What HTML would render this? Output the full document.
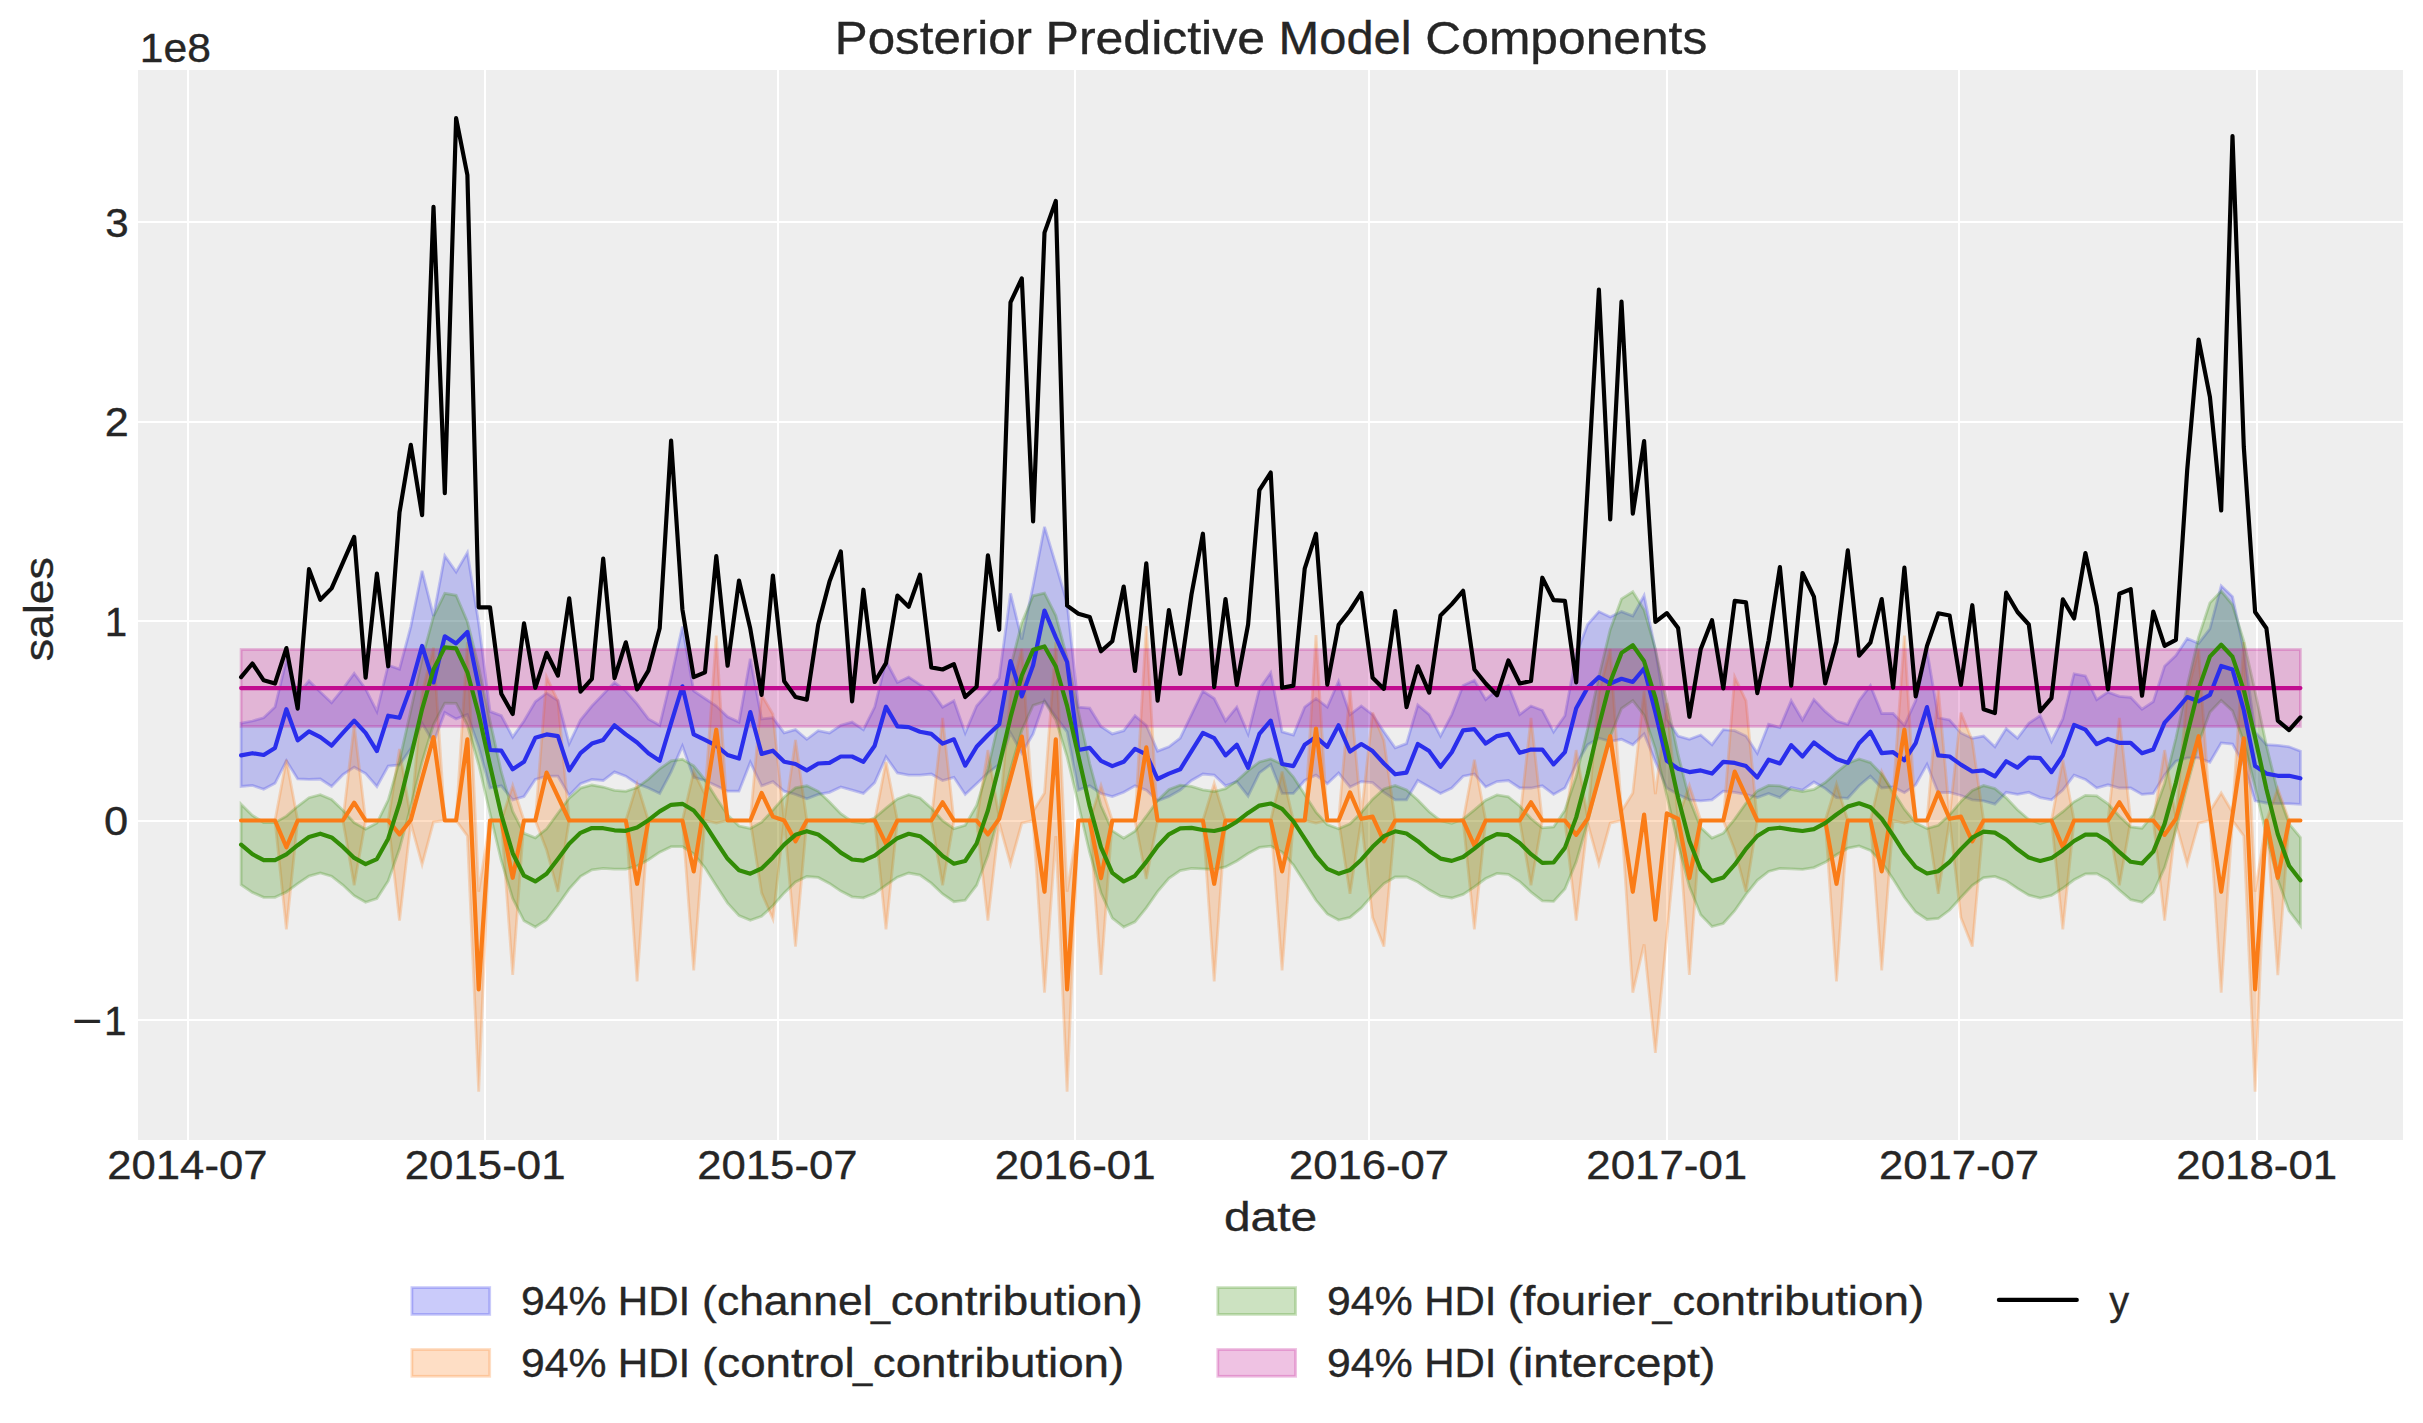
<!DOCTYPE html>
<html><head><meta charset="utf-8"><title>Posterior Predictive Model Components</title>
<style>
html,body{margin:0;padding:0;background:#ffffff;}
body{width:2423px;height:1423px;overflow:hidden;}
svg{display:block;}
text{font-family:"Liberation Sans",sans-serif;fill:#262626;stroke:#262626;stroke-width:0.35px;}
</style></head><body>
<svg width="2423" height="1423" viewBox="0 0 2423 1423">
<defs><clipPath id="pc"><rect x="138.0" y="70.0" width="2265.0" height="1070.0"/></clipPath></defs>
<rect width="2423" height="1423" fill="#ffffff"/>
<rect x="138.0" y="70.0" width="2265.0" height="1070.0" fill="#eeeeee"/>
<path d="M188 70.0V1140.0M485 70.0V1140.0M778 70.0V1140.0M1075 70.0V1140.0M1369 70.0V1140.0M1667 70.0V1140.0M1959 70.0V1140.0M2257 70.0V1140.0M138.0 222H2403.0M138.0 422H2403.0M138.0 621H2403.0M138.0 821H2403.0M138.0 1020H2403.0" stroke="#ffffff" stroke-width="2.1" fill="none"/>
<g clip-path="url(#pc)">
<polygon points="241.1,723.2 252.4,721 263.7,717.8 275,707.1 286.4,659.9 297.7,694.2 309,680.9 320.3,692.1 331.6,702.8 342.9,688.9 354.2,673.4 365.6,688.9 376.9,711.4 388.2,665.2 399.5,669.1 410.8,626.6 422.1,570.8 433.5,615.9 444.8,555.8 456.1,571.9 467.4,552.6 478.7,623.4 490,711.4 501.3,715.7 512.7,737.1 524,721 535.3,701.7 546.6,693.1 557.9,700.7 569.2,743.6 580.5,720 591.9,706 603.2,694.2 614.5,682.4 625.8,691 637.1,703.9 648.4,718.9 659.7,725.3 671.1,678.1 682.4,626.6 693.7,691 705,698.5 716.3,706 727.6,716.8 739,722.1 750.3,658.8 761.6,718.9 772.9,717.8 784.2,732.9 795.5,729.6 806.8,739.3 818.2,730.7 829.5,732.9 840.8,725.3 852.1,722.1 863.4,729.6 874.7,707.1 886,661 897.4,682.4 908.7,677.1 920,684.6 931.3,691 942.6,707.1 953.9,700.7 965.2,732.9 976.6,706 987.9,693.1 999.2,678.1 1010.5,593.4 1021.8,639.5 1033.1,585.8 1044.5,526.8 1055.8,564.4 1067.1,603 1078.4,707.1 1089.7,708.2 1101,726.4 1112.3,733.9 1123.7,730.7 1135,715.7 1146.3,725.3 1157.6,751.1 1168.9,746.8 1180.2,738.2 1191.5,714.6 1202.9,691 1214.2,698.5 1225.5,721 1236.8,707.1 1248.1,733.9 1259.4,688.9 1270.7,672.8 1282.1,731.8 1293.4,735 1304.7,707.1 1316,698.5 1327.3,707.1 1338.6,681.3 1350,714.6 1361.3,706 1372.6,714.6 1383.9,731.8 1395.2,747.9 1406.5,743.6 1417.8,705 1429.2,714.6 1440.5,736.1 1451.8,714.6 1463.1,685.6 1474.4,680.3 1485.7,699.6 1497,689.9 1508.4,685.6 1519.7,714.6 1531,706 1542.3,710.3 1553.6,731.8 1564.9,715.7 1576.2,654.5 1587.6,624.5 1598.9,611.6 1610.2,617 1621.5,611.6 1632.8,615.9 1644.1,595.5 1655.4,650.2 1666.8,718.9 1678.1,736.1 1689.4,739.3 1700.7,735 1712,744.7 1723.3,729.6 1734.7,730.7 1746,736.1 1757.3,753.2 1768.6,724.3 1779.9,727.5 1791.2,700.7 1802.5,720 1813.9,699.6 1825.2,711.4 1836.5,721 1847.8,724.3 1859.1,700.7 1870.4,685.6 1881.7,713.5 1893.1,713.5 1904.4,725.3 1915.7,700.7 1927,650.2 1938.3,717.8 1949.6,720 1960.9,732.9 1972.3,738.2 1983.6,736.1 1994.9,746.8 2006.2,728.6 2017.5,738.2 2028.8,723.2 2040.2,715.7 2051.5,741.4 2062.8,718.9 2074.1,673.8 2085.4,676 2096.7,699.6 2108,692.1 2119.4,696.4 2130.7,697.4 2142,709.2 2153.3,701.7 2164.6,666.3 2175.9,655.6 2187.2,638.4 2198.6,643.4 2209.9,628.8 2221.2,585.8 2232.5,596.6 2243.8,650.2 2255.1,731.8 2266.4,744.7 2277.8,745.3 2289.1,746.8 2300.4,751.1 2300.4,804.3 2289.1,803.7 2277.8,803.7 2266.4,803 2255.1,800.9 2243.8,764.4 2232.5,744 2221.2,742.9 2209.9,762.2 2198.6,757.9 2187.2,757.9 2175.9,761.2 2164.6,775.1 2153.3,793.4 2142,794.4 2130.7,788 2119.4,788 2108,784.8 2096.7,788 2085.4,779.4 2074.1,775.1 2062.8,790.1 2051.5,799.8 2040.2,797.6 2028.8,792.3 2017.5,794.4 2006.2,792.3 1994.9,804.1 1983.6,800.9 1972.3,799.8 1960.9,795.5 1949.6,792.3 1938.3,792.7 1927,764.4 1915.7,784.8 1904.4,792.7 1893.1,786.9 1881.7,788 1870.4,776.2 1859.1,785.8 1847.8,798.3 1836.5,797.6 1825.2,788.4 1813.9,782 1802.5,790.1 1791.2,787.6 1779.9,797.6 1768.6,793.4 1757.3,797.6 1746,794.4 1734.7,792.3 1723.3,791.2 1712,799.8 1700.7,800.9 1689.4,799.8 1678.1,794.4 1666.8,788 1655.4,761.8 1644.1,733.9 1632.8,744.7 1621.5,739.3 1610.2,741.4 1598.9,738.2 1587.6,744.7 1576.2,764.4 1564.9,788 1553.6,794.4 1542.3,785.8 1531,788 1519.7,788 1508.4,780.5 1497,781.6 1485.7,786.9 1474.4,774 1463.1,776.2 1451.8,788 1440.5,793.4 1429.2,786.9 1417.8,780.5 1406.5,799.8 1395.2,799.8 1383.9,792.3 1372.6,782.6 1361.3,781.6 1350,786.9 1338.6,773 1327.3,783.7 1316,775.1 1304.7,780.5 1293.4,793.4 1282.1,793.4 1270.7,764.4 1259.4,773 1248.1,796.1 1236.8,781.6 1225.5,785.8 1214.2,775.1 1202.9,774 1191.5,780.5 1180.2,790.1 1168.9,796.6 1157.6,800.9 1146.3,790.1 1135,785.8 1123.7,792.3 1112.3,796.6 1101,793.4 1089.7,785.8 1078.4,790.1 1067.1,731.8 1055.8,716.8 1044.5,700.7 1033.1,733.9 1021.8,753.2 1010.5,732.9 999.2,764.4 987.9,773 976.6,783.7 965.2,794.4 953.9,777.3 942.6,780.5 931.3,774 920,775.1 908.7,775.1 897.4,773 886,756.9 874.7,782.6 863.4,793.4 852.1,790.1 840.8,786.9 829.5,792.3 818.2,794.4 806.8,798.7 795.5,794.4 784.2,791.2 772.9,781.6 761.6,785.8 750.3,762.2 739,791.2 727.6,791.2 716.3,785.8 705,780.5 693.7,777.3 682.4,746.1 671.1,771.9 659.7,793.4 648.4,788 637.1,783.7 625.8,776.2 614.5,771.9 603.2,780.5 591.9,779.4 580.5,783.7 569.2,795.5 557.9,776.2 546.6,776.2 535.3,779.4 524,796.6 512.7,799.8 501.3,785.8 490,788 478.7,746.8 467.4,714.6 456.1,718.9 444.8,712.5 433.5,742.5 422.1,723.2 410.8,748.9 399.5,765 388.2,766.1 376.9,786.5 365.6,773.6 354.2,767.2 342.9,774.7 331.6,786.5 320.3,779 309,779.4 297.7,779 286.4,760.8 275,783.3 263.7,789.3 252.4,785.4 241.1,786.5" fill="#2a2eec" fill-opacity="0.25" stroke="#2a2eec" stroke-opacity="0.25" stroke-width="2.8" stroke-linejoin="miter"/>
<polygon points="241.1,820.5 252.4,820.5 263.7,820.5 275,820.5 286.4,759.8 297.7,820.5 309,820.5 320.3,820.5 331.6,820.5 342.9,820.5 354.2,725 365.6,820.5 376.9,820.5 388.2,820.5 399.5,749 410.8,818.8 422.1,692.8 433.5,647.7 444.8,820.5 456.1,820.5 467.4,642.1 478.7,891.8 490,820.5 501.3,820.5 512.7,785.5 524,820.5 535.3,820.5 546.6,676.9 557.9,700.8 569.2,820.5 580.5,820.5 591.9,820.5 603.2,820.5 614.5,820.5 625.8,820.5 637.1,784 648.4,820.5 659.7,820.5 671.1,820.5 682.4,820.5 693.7,771.6 705,794.6 716.3,635.6 727.6,820.5 739,820.5 750.3,820.5 761.6,694.8 772.9,714.3 784.2,820.5 795.5,740 806.8,820.5 818.2,820.5 829.5,820.5 840.8,820.5 852.1,820.5 863.4,820.5 874.7,820.5 886,761.9 897.4,820.5 908.7,820.5 920,820.5 931.3,820.5 942.6,717.9 953.9,820.5 965.2,820.5 976.6,820.5 987.9,750.1 999.2,817.7 1010.5,692.8 1021.8,648.9 1033.1,811.3 1044.5,793 1055.8,642.1 1067.1,891.8 1078.4,820.5 1089.7,820.5 1101,785.5 1112.3,820.5 1123.7,820.5 1135,820.5 1146.3,626 1157.6,820.5 1168.9,820.5 1180.2,820.5 1191.5,820.5 1202.9,820.5 1214.2,783.4 1225.5,820.5 1236.8,820.5 1248.1,820.5 1259.4,820.5 1270.7,820.5 1282.1,771.6 1293.4,820.5 1304.7,820.5 1316,635.2 1327.3,820.5 1338.6,820.5 1350,688.8 1361.3,815.6 1372.6,712.6 1383.9,740.5 1395.2,820.5 1406.5,820.5 1417.8,820.5 1429.2,820.5 1440.5,820.5 1451.8,820.5 1463.1,820.5 1474.4,759.8 1485.7,820.5 1497,820.5 1508.4,820.5 1519.7,820.5 1531,717.9 1542.3,820.5 1553.6,820.5 1564.9,820.5 1576.2,750.1 1587.6,817.7 1598.9,692.8 1610.2,648.9 1621.5,811.3 1632.8,793 1644.1,690.8 1655.4,794.1 1666.8,702.8 1678.1,817.7 1689.4,785.5 1700.7,820.5 1712,820.5 1723.3,820.5 1734.7,676.9 1746,700.8 1757.3,820.5 1768.6,820.5 1779.9,820.5 1791.2,820.5 1802.5,820.5 1813.9,820.5 1825.2,820.5 1836.5,784 1847.8,820.5 1859.1,820.5 1870.4,820.5 1881.7,771.6 1893.1,794.6 1904.4,635.6 1915.7,820.5 1927,820.5 1938.3,688.8 1949.6,815.6 1960.9,712.6 1972.3,740.5 1983.6,820.5 1994.9,820.5 2006.2,820.5 2017.5,820.5 2028.8,820.5 2040.2,820.5 2051.5,820.5 2062.8,759.8 2074.1,820.5 2085.4,820.5 2096.7,820.5 2108,820.5 2119.4,717.9 2130.7,820.5 2142,820.5 2153.3,820.5 2164.6,750.1 2175.9,817.7 2187.2,692.8 2198.6,648.9 2209.9,811.3 2221.2,793 2232.5,812.3 2243.8,642.1 2255.1,891.8 2266.4,820.5 2277.8,788.6 2289.1,820.5 2300.4,820.5 2300.4,820.5 2289.1,820.5 2277.8,975.1 2266.4,820.5 2255.1,1091.8 2243.8,836 2232.5,820.5 2221.2,992.6 2209.9,820.5 2198.6,823.1 2187.2,863.9 2175.9,823.1 2164.6,920.7 2153.3,820.5 2142,820.5 2130.7,820.5 2119.4,885.3 2108,820.5 2096.7,820.5 2085.4,820.5 2074.1,820.5 2062.8,929.3 2051.5,820.5 2040.2,820.5 2028.8,820.5 2017.5,820.5 2006.2,820.5 1994.9,820.5 1983.6,820.5 1972.3,946.5 1960.9,917.5 1949.6,820.5 1938.3,893.9 1927,820.5 1915.7,820.5 1904.4,823.1 1893.1,820.5 1881.7,970.5 1870.4,820.5 1859.1,820.5 1847.8,820.5 1836.5,981.5 1825.2,820.5 1813.9,820.5 1802.5,820.5 1791.2,820.5 1779.9,820.5 1768.6,820.5 1757.3,820.5 1746,891.8 1734.7,849.9 1723.3,820.5 1712,820.5 1700.7,820.5 1689.4,974.8 1678.1,820.5 1666.8,935.7 1655.4,1052.9 1644.1,944.3 1632.8,992.6 1621.5,820.5 1610.2,823.1 1598.9,863.9 1587.6,823.1 1576.2,920.7 1564.9,820.5 1553.6,820.5 1542.3,820.5 1531,885.3 1519.7,820.5 1508.4,820.5 1497,820.5 1485.7,820.5 1474.4,929.3 1463.1,820.5 1451.8,820.5 1440.5,820.5 1429.2,820.5 1417.8,820.5 1406.5,820.5 1395.2,820.5 1383.9,946.5 1372.6,917.5 1361.3,820.5 1350,893.9 1338.6,820.5 1327.3,820.5 1316,823.1 1304.7,820.5 1293.4,820.5 1282.1,970.5 1270.7,820.5 1259.4,820.5 1248.1,820.5 1236.8,820.5 1225.5,820.5 1214.2,981.5 1202.9,820.5 1191.5,820.5 1180.2,820.5 1168.9,820.5 1157.6,820.5 1146.3,878.9 1135,820.5 1123.7,820.5 1112.3,820.5 1101,974.8 1089.7,820.5 1078.4,820.5 1067.1,1091.8 1055.8,836 1044.5,992.6 1033.1,820.5 1021.8,823.1 1010.5,863.9 999.2,823.1 987.9,920.7 976.6,820.5 965.2,820.5 953.9,820.5 942.6,885.3 931.3,820.5 920,820.5 908.7,820.5 897.4,820.5 886,929.3 874.7,820.5 863.4,820.5 852.1,820.5 840.8,820.5 829.5,820.5 818.2,820.5 806.8,820.5 795.5,946.5 784.2,820.5 772.9,919 761.6,892.8 750.3,820.5 739,820.5 727.6,820.5 716.3,823.1 705,820.5 693.7,970.5 682.4,820.5 671.1,820.5 659.7,820.5 648.4,820.5 637.1,981.5 625.8,820.5 614.5,820.5 603.2,820.5 591.9,820.5 580.5,820.5 569.2,820.5 557.9,891.8 546.6,849.9 535.3,820.5 524,820.5 512.7,974.8 501.3,820.5 490,820.5 478.7,1091.8 467.4,836 456.1,820.5 444.8,820.5 433.5,822 422.1,864.5 410.8,823.1 399.5,920.7 388.2,820.5 376.9,820.5 365.6,820.5 354.2,885.3 342.9,820.5 331.6,820.5 320.3,820.5 309,820.5 297.7,820.5 286.4,929.3 275,820.5 263.7,820.5 252.4,820.5 241.1,820.5" fill="#fa7c17" fill-opacity="0.25" stroke="#fa7c17" stroke-opacity="0.25" stroke-width="2.8" stroke-linejoin="miter"/>
<polygon points="241.1,804.2 252.4,815.5 263.7,822.5 275,822.6 286.4,816.1 297.7,806.3 309,797.7 320.3,794.7 331.6,799.4 342.9,810.3 354.2,822.6 365.6,829.1 376.9,823 388.2,800.1 399.5,760.8 410.8,710.4 422.1,658.6 433.5,616.4 444.8,593.4 456.1,595.3 467.4,621.8 478.7,666.9 490,720.7 501.3,772 512.7,811.4 524,833.4 535.3,837.8 546.6,828.8 557.9,813.3 569.2,798.1 580.5,788.1 591.9,785 603.2,787 614.5,790.4 625.8,791.3 637.1,787.5 648.4,779.1 659.7,768.8 671.1,760.9 682.4,759.3 693.7,765.9 705,779.9 716.3,797.9 727.6,814.9 739,826 750.3,828.4 761.6,822.2 772.9,810.1 784.2,797 795.5,787.8 806.8,785.8 818.2,791.3 829.5,802.1 840.8,813.7 852.1,821.7 863.4,823.1 874.7,817.7 886,808.1 897.4,798.9 908.7,794.7 920,798 931.3,808.1 942.6,820.6 953.9,828.7 965.2,825.3 976.6,805.5 987.9,768.8 999.2,719.8 1010.5,667.5 1021.8,622.7 1033.1,595.8 1044.5,593.1 1055.8,615.5 1067.1,657.9 1078.4,711 1089.7,763.5 1101,805.5 1112.3,830.8 1123.7,838.2 1135,831.1 1146.3,816.2 1157.6,800.5 1168.9,789.4 1180.2,785.1 1191.5,786.4 1202.9,789.9 1214.2,791.5 1225.5,788.6 1236.8,780.8 1248.1,770.6 1259.4,762 1270.7,759 1282.1,764.1 1293.4,777 1304.7,794.6 1316,812.1 1327.3,824.6 1338.6,828.7 1350,823.8 1361.3,812.5 1372.6,799.2 1383.9,789 1395.2,785.6 1406.5,789.9 1417.8,800 1429.2,811.8 1440.5,820.7 1451.8,823.4 1463.1,819 1474.4,809.9 1485.7,800.3 1497,794.9 1508.4,796.8 1519.7,806 1531,818.5 1542.3,827.9 1553.6,827 1564.9,810.3 1576.2,776.5 1587.6,729.1 1598.9,676.6 1610.2,629.7 1621.5,598.9 1632.8,591.7 1644.1,609.8 1655.4,649.2 1666.8,701.2 1678.1,754.7 1689.4,799.1 1700.7,827.6 1712,838 1723.3,833.2 1734.7,819.1 1746,803.1 1757.3,790.9 1768.6,785.4 1779.9,785.9 1791.2,789.3 1802.5,791.5 1813.9,789.5 1825.2,782.5 1836.5,772.4 1847.8,763.2 1859.1,759 1870.4,762.6 1881.7,774.2 1893.1,791.3 1904.4,809.2 1915.7,822.9 1927,828.6 1938.3,825.3 1949.6,814.8 1960.9,801.5 1972.3,790.4 1983.6,785.6 1994.9,788.6 2006.2,797.9 2017.5,809.8 2028.8,819.5 2040.2,823.5 2051.5,820.3 2062.8,811.7 2074.1,801.8 2085.4,795.4 2096.7,795.9 2108,803.9 2119.4,816.3 2130.7,826.8 2142,828.2 2153.3,814.6 2164.6,783.7 2175.9,738.3 2187.2,685.9 2198.6,637.1 2209.9,602.9 2221.2,591.1 2232.5,604.8 2243.8,641 2255.1,691.5 2266.4,745.5 2277.8,792.2 2289.1,823.9 2300.4,837.4 2300.4,925.6 2289.1,910.9 2277.8,879.8 2266.4,835.9 2255.1,786.7 2243.8,741.9 2232.5,710.9 2221.2,700.4 2209.9,712.2 2198.6,743.1 2187.2,785.5 2175.9,830.1 2164.6,867.6 2153.3,892.3 2142,902.2 2130.7,899.7 2119.4,890.1 2108,879.8 2096.7,873.6 2085.4,873.9 2074.1,879.8 2062.8,888.3 2051.5,895.4 2040.2,898.1 2028.8,895.2 2017.5,888.4 2006.2,880.8 1994.9,876.4 1983.6,877.7 1972.3,885.4 1960.9,897.5 1949.6,910 1938.3,918.5 1927,919.5 1915.7,912 1904.4,897.3 1893.1,879.1 1881.7,862.2 1870.4,850.4 1859.1,845.9 1847.8,848.2 1836.5,854.8 1825.2,862.3 1813.9,867.6 1802.5,869.4 1791.2,868.8 1779.9,868.4 1768.6,871.5 1757.3,880.3 1746,894.4 1734.7,910.7 1723.3,923.5 1712,926.5 1700.7,914.7 1689.4,886.5 1678.1,844.4 1666.8,795.5 1655.4,749.1 1644.1,715.1 1632.8,700.6 1621.5,708.5 1610.2,736.5 1598.9,777.5 1587.6,822.4 1576.2,861.8 1564.9,889 1553.6,901.4 1542.3,900.8 1531,892.1 1519.7,881.5 1508.4,874.3 1497,873.4 1485.7,878.5 1474.4,886.8 1463.1,894.4 1451.8,898 1440.5,896.1 1429.2,889.8 1417.8,882.1 1406.5,876.8 1395.2,877 1383.9,883.6 1372.6,895.1 1361.3,907.9 1350,917.4 1338.6,920 1327.3,913.9 1316,900.3 1304.7,882.4 1293.4,864.9 1282.1,852 1270.7,846.1 1259.4,847.4 1248.1,853.5 1236.8,861 1225.5,866.9 1214.2,869.3 1202.9,868.9 1191.5,868.3 1180.2,870.6 1168.9,878.3 1157.6,891.6 1146.3,907.9 1135,921.8 1123.7,927 1112.3,918.1 1101,892.7 1089.7,852.7 1078.4,804.3 1067.1,756.8 1055.8,719.9 1044.5,701.6 1033.1,705.5 1021.8,730.3 1010.5,769.6 999.2,814.5 987.9,855.5 976.6,885.2 965.2,900.3 953.9,901.7 942.6,894 931.3,883.2 920,875.1 908.7,873 897.4,877.2 886,885.2 874.7,893.3 863.4,897.8 852.1,896.8 840.8,891.1 829.5,883.4 818.2,877.4 806.8,876.5 795.5,882 784.2,892.9 772.9,905.7 761.6,916.2 750.3,920.2 739,915.6 727.6,903.1 716.3,885.7 705,867.8 693.7,853.8 682.4,846.6 671.1,846.7 659.7,852.2 648.4,859.7 637.1,866 625.8,869.1 614.5,869.1 603.2,868.3 591.9,869.8 580.5,876.4 569.2,888.9 557.9,905 546.6,919.7 535.3,927 524,920.8 512.7,898.4 501.3,860.7 490,813.2 478.7,764.8 467.4,725.3 456.1,703.3 444.8,703.2 433.5,724.6 422.1,761.9 410.8,806.5 399.5,848.8 388.2,880.9 376.9,898.6 365.6,902.3 354.2,895.7 342.9,885.1 331.6,876.2 320.3,872.9 309,876.1 297.7,883.7 286.4,892 275,897.3 263.7,897.4 252.4,892.4 241.1,884.7" fill="#328c06" fill-opacity="0.25" stroke="#328c06" stroke-opacity="0.25" stroke-width="2.8" stroke-linejoin="miter"/>
<rect x="241.1" y="649.5" width="2059.3" height="76.9" fill="#c10c90" fill-opacity="0.25" stroke="#c10c90" stroke-opacity="0.25" stroke-width="2.8"/>
<polyline points="241.1,755.4 252.4,753.2 263.7,755 275,747.9 286.4,709.2 297.7,740.4 309,731.3 320.3,737.1 331.6,745.7 342.9,732.9 354.2,720.6 365.6,732.9 376.9,751.1 388.2,715.7 399.5,717.8 410.8,686.7 422.1,645.9 433.5,682.4 444.8,636.3 456.1,643.4 467.4,632 478.7,686.7 490,750 501.3,750.7 512.7,769.3 524,761.8 535.3,737.8 546.6,734.4 557.9,736.1 569.2,770.4 580.5,753.2 591.9,743.6 603.2,739.9 614.5,725.3 625.8,734.4 637.1,742.5 648.4,753.2 659.7,760.8 671.1,723.2 682.4,686.3 693.7,734.4 705,739.9 716.3,745.7 727.6,755 739,758.6 750.3,712 761.6,753.9 772.9,750.7 784.2,761.8 795.5,764 806.8,770.4 818.2,763.5 829.5,762.9 840.8,756.5 852.1,756.5 863.4,761.8 874.7,745.7 886,706.7 897.4,726.4 908.7,727.1 920,731.8 931.3,733.9 942.6,743.6 953.9,739.3 965.2,765.7 976.6,746.8 987.9,735 999.2,724.3 1010.5,661 1021.8,696.4 1033.1,665.2 1044.5,610.5 1055.8,637.4 1067.1,662 1078.4,750 1089.7,747.9 1101,760.8 1112.3,766.1 1123.7,761.8 1135,748.9 1146.3,754.3 1157.6,779 1168.9,773.6 1180.2,769.3 1191.5,751.1 1202.9,732.9 1214.2,738.2 1225.5,755.4 1236.8,744.7 1248.1,767.8 1259.4,733.9 1270.7,720.6 1282.1,764 1293.4,766.1 1304.7,744.7 1316,737.1 1327.3,746.8 1338.6,725.3 1350,751.5 1361.3,744 1372.6,751.1 1383.9,763.5 1395.2,774.3 1406.5,772.6 1417.8,744 1429.2,751.1 1440.5,766.8 1451.8,752.2 1463.1,730.3 1474.4,729.2 1485.7,743.6 1497,736.1 1508.4,733.9 1519.7,752.8 1531,749.6 1542.3,749.6 1553.6,764.4 1564.9,752.2 1576.2,708.2 1587.6,687.8 1598.9,677.1 1610.2,683.5 1621.5,678.8 1632.8,682 1644.1,668.5 1655.4,712.5 1666.8,760.8 1678.1,768.7 1689.4,772.1 1700.7,770.4 1712,773.6 1723.3,761.8 1734.7,762.9 1746,766.1 1757.3,777.5 1768.6,759.7 1779.9,763.5 1791.2,745.1 1802.5,756.5 1813.9,742.5 1825.2,751.1 1836.5,759 1847.8,762.9 1859.1,743.2 1870.4,731.8 1881.7,753.2 1893.1,752.2 1904.4,760.3 1915.7,743.2 1927,707.1 1938.3,755.4 1949.6,756.5 1960.9,764.6 1972.3,771.5 1983.6,770.4 1994.9,776.4 2006.2,761.2 2017.5,767.6 2028.8,757.5 2040.2,758.2 2051.5,772.1 2062.8,755.4 2074.1,724.9 2085.4,729.6 2096.7,744.2 2108,738.9 2119.4,742.9 2130.7,742.9 2142,753.2 2153.3,749.4 2164.6,722.6 2175.9,710.3 2187.2,697 2198.6,701.3 2209.9,694.9 2221.2,665.9 2232.5,669.5 2243.8,710.3 2255.1,766.1 2266.4,773.6 2277.8,775.8 2289.1,775.8 2300.4,778.3" fill="none" stroke="#2a2eec" stroke-width="4.17" stroke-linejoin="round" stroke-linecap="round"/>
<polyline points="241.1,820.5 252.4,820.5 263.7,820.5 275,820.5 286.4,847.3 297.7,820.5 309,820.5 320.3,820.5 331.6,820.5 342.9,820.5 354.2,802.7 365.6,820.5 376.9,820.5 388.2,820.5 399.5,834.4 410.8,819.9 422.1,778.4 433.5,737.2 444.8,820.5 456.1,820.5 467.4,739.4 478.7,989.4 490,820.5 501.3,820.5 512.7,877.8 524,820.5 535.3,820.5 546.6,772.6 557.9,796.5 569.2,820.5 580.5,820.5 591.9,820.5 603.2,820.5 614.5,820.5 625.8,820.5 637.1,883.8 648.4,820.5 659.7,820.5 671.1,820.5 682.4,820.5 693.7,871.4 705,800.5 716.3,729.7 727.6,820.5 739,820.5 750.3,820.5 761.6,793 772.9,816.6 784.2,820.5 795.5,841.3 806.8,820.5 818.2,820.5 829.5,820.5 840.8,820.5 852.1,820.5 863.4,820.5 874.7,820.5 886,843.9 897.4,820.5 908.7,820.5 920,820.5 931.3,820.5 942.6,802.3 953.9,820.5 965.2,820.5 976.6,820.5 987.9,834.4 999.2,818.8 1010.5,778 1021.8,736.6 1033.1,814.1 1044.5,891.8 1055.8,739.4 1067.1,989.4 1078.4,820.5 1089.7,820.5 1101,878.2 1112.3,820.5 1123.7,820.5 1135,820.5 1146.3,747.3 1157.6,820.5 1168.9,820.5 1180.2,820.5 1191.5,820.5 1202.9,820.5 1214.2,883.8 1225.5,820.5 1236.8,820.5 1248.1,820.5 1259.4,820.5 1270.7,820.5 1282.1,871.4 1293.4,820.5 1304.7,820.5 1316,728.6 1327.3,820.5 1338.6,820.5 1350,792.4 1361.3,818.8 1372.6,816.6 1383.9,841.3 1395.2,820.5 1406.5,820.5 1417.8,820.5 1429.2,820.5 1440.5,820.5 1451.8,820.5 1463.1,820.5 1474.4,845.6 1485.7,820.5 1497,820.5 1508.4,820.5 1519.7,820.5 1531,802.3 1542.3,820.5 1553.6,820.5 1564.9,820.5 1576.2,834.9 1587.6,818.8 1598.9,778 1610.2,736.2 1621.5,814.5 1632.8,891.8 1644.1,814.5 1655.4,919.6 1666.8,813.4 1678.1,818.8 1689.4,878.2 1700.7,820.5 1712,820.5 1723.3,820.5 1734.7,771.6 1746,796.2 1757.3,820.5 1768.6,820.5 1779.9,820.5 1791.2,820.5 1802.5,820.5 1813.9,820.5 1825.2,820.5 1836.5,883.8 1847.8,820.5 1859.1,820.5 1870.4,820.5 1881.7,871.4 1893.1,800.5 1904.4,729.7 1915.7,820.5 1927,820.5 1938.3,792.4 1949.6,818.8 1960.9,816.6 1972.3,841.3 1983.6,820.5 1994.9,820.5 2006.2,820.5 2017.5,820.5 2028.8,820.5 2040.2,820.5 2051.5,820.5 2062.8,847.3 2074.1,820.5 2085.4,820.5 2096.7,820.5 2108,820.5 2119.4,802.3 2130.7,820.5 2142,820.5 2153.3,820.5 2164.6,834.9 2175.9,818.8 2187.2,778 2198.6,736.2 2209.9,814.5 2221.2,891.8 2232.5,814.9 2243.8,738.3 2255.1,989.4 2266.4,820.5 2277.8,877.8 2289.1,820.5 2300.4,820.5" fill="none" stroke="#fa7c17" stroke-width="4.17" stroke-linejoin="round" stroke-linecap="round"/>
<polyline points="241.1,844.7 252.4,854.2 263.7,860.2 275,860.2 286.4,854.3 297.7,845.2 309,837 320.3,833.7 331.6,837.4 342.9,846.9 354.2,857.9 365.6,864.1 376.9,859.1 388.2,838.7 399.5,803.2 410.8,757.1 422.1,709.1 433.5,669.5 444.8,647.4 456.1,648.3 467.4,672.3 478.7,714.4 490,765.3 501.3,814.6 512.7,853.2 524,875.7 535.3,881.4 546.6,873.8 557.9,859 569.2,843.8 580.5,832.8 591.9,828 603.2,828.2 614.5,830.3 625.8,830.8 637.1,827.4 648.4,820.2 659.7,811.4 671.1,804.8 682.4,803.8 693.7,810.5 705,824.3 716.3,841.9 727.6,858.8 739,870.3 750.3,873.7 761.6,868.5 772.9,857.4 784.2,844.6 795.5,834.8 806.8,831.2 818.2,834.5 829.5,842.9 840.8,852.6 852.1,859.5 863.4,860.6 874.7,855.7 886,846.9 897.4,838.2 908.7,833.8 920,836.2 931.3,844.9 942.6,856.1 953.9,863.7 965.2,861 976.6,843.6 987.9,810.5 999.2,765.7 1010.5,717.4 1021.8,675.5 1033.1,649.8 1044.5,646.4 1055.8,666.5 1067.1,705.9 1078.4,756 1089.7,806.3 1101,847.4 1112.3,872.9 1123.7,881.5 1135,875.8 1146.3,861.9 1157.6,846.3 1168.9,834.3 1180.2,828.4 1191.5,827.9 1202.9,830 1214.2,831 1225.5,828.4 1236.8,821.7 1248.1,812.9 1259.4,805.6 1270.7,803.5 1282.1,808.8 1293.4,821.4 1304.7,838.6 1316,856 1327.3,868.8 1338.6,873.7 1350,870 1361.3,859.7 1372.6,846.8 1383.9,836.2 1395.2,831.3 1406.5,833.5 1417.8,841.2 1429.2,851 1440.5,858.6 1451.8,860.9 1463.1,857 1474.4,848.6 1485.7,839.5 1497,834.1 1508.4,835.2 1519.7,843 1531,854.2 1542.3,862.9 1553.6,862.5 1564.9,847.9 1576.2,817.4 1587.6,774.3 1598.9,725.8 1610.2,682.1 1621.5,652.9 1632.8,645.2 1644.1,661.3 1655.4,697.8 1666.8,746.7 1678.1,797.8 1689.4,841 1700.7,869.6 1712,881.1 1723.3,877.6 1734.7,864.7 1746,848.9 1757.3,836 1768.6,829 1779.9,827.7 1791.2,829.6 1802.5,831 1813.9,829.1 1825.2,823.1 1836.5,814.5 1847.8,806.6 1859.1,803.3 1870.4,807.3 1881.7,818.7 1893.1,835.4 1904.4,853.1 1915.7,867 1927,873.5 1938.3,871.2 1949.6,861.8 1960.9,849.1 1972.3,837.7 1983.6,831.7 1994.9,832.6 2006.2,839.5 2017.5,849.3 2028.8,857.6 2040.2,861 2051.5,858.1 2062.8,850.2 2074.1,841 2085.4,834.6 2096.7,834.5 2108,841.3 2119.4,852.2 2130.7,861.8 2142,863.5 2153.3,851.6 2164.6,823.9 2175.9,782.6 2187.2,734.4 2198.6,689.1 2209.9,656.6 2221.2,644.8 2232.5,656.8 2243.8,690.1 2255.1,737.5 2266.4,789 2277.8,834.2 2289.1,865.8 2300.4,880.3" fill="none" stroke="#328c06" stroke-width="4.17" stroke-linejoin="round" stroke-linecap="round"/>
<path d="M241.1 688.1H2300.4" stroke="#c10c90" stroke-width="4.17" fill="none" stroke-linecap="round"/>
<polyline points="241.1,677.1 252.4,663.5 263.7,680.3 275,683.5 286.4,648.1 297.7,708.6 309,569.1 320.3,599.8 331.6,588.4 342.9,562.7 354.2,536.9 365.6,677.7 376.9,573.6 388.2,666.3 399.5,512.4 410.8,444.8 422.1,515.2 433.5,206.9 444.8,493.1 456.1,118.2 467.4,175.1 478.7,607.3 490,607.3 501.3,693.8 512.7,714 524,623.4 535.3,687.8 546.6,652.8 557.9,675.6 569.2,598.3 580.5,691.6 591.9,678.8 603.2,558.6 614.5,678.1 625.8,642.3 637.1,689.5 648.4,670.6 659.7,628.3 671.1,440.6 682.4,609.5 693.7,677.1 705,672.3 716.3,556.2 727.6,665.7 739,580.5 750.3,628.8 761.6,694.9 772.9,575.5 784.2,681.3 795.5,697 806.8,699.6 818.2,624.5 829.5,581.6 840.8,551.5 852.1,701.3 863.4,589.7 874.7,682 886,663.1 897.4,595.5 908.7,606.7 920,574.7 931.3,667.4 942.6,669.5 953.9,664.2 965.2,697 976.6,686.7 987.9,555.4 999.2,629.8 1010.5,302.4 1021.8,278.3 1033.1,521.5 1044.5,232.6 1055.8,200.9 1067.1,605.6 1078.4,613.7 1089.7,617 1101,651.3 1112.3,641.2 1123.7,586.5 1135,671 1146.3,563.3 1157.6,700.7 1168.9,610.1 1180.2,673.8 1191.5,594.4 1202.9,533.7 1214.2,687.1 1225.5,599.1 1236.8,685 1248.1,624.5 1259.4,490.2 1270.7,472.5 1282.1,687.8 1293.4,685.6 1304.7,568.7 1316,533.7 1327.3,684.6 1338.6,624.9 1350,610.5 1361.3,592.9 1372.6,677.7 1383.9,688.9 1395.2,611 1406.5,707.1 1417.8,666.3 1429.2,692.7 1440.5,615.5 1451.8,604.1 1463.1,590.8 1474.4,669.5 1485.7,683.5 1497,695.3 1508.4,660.5 1519.7,683.5 1531,680.9 1542.3,577.7 1553.6,600.2 1564.9,600.9 1576.2,682.4 1587.6,488 1598.9,289.7 1610.2,519.4 1621.5,301.5 1632.8,513.6 1644.1,441 1655.4,621.9 1666.8,613.1 1678.1,628.1 1689.4,716.8 1700.7,649.2 1712,620.2 1723.3,688.4 1734.7,600.9 1746,602.4 1757.3,693.1 1768.6,640.6 1779.9,567 1791.2,685.6 1802.5,573 1813.9,596.6 1825.2,683.5 1836.5,641.6 1847.8,550.4 1859.1,655.6 1870.4,642.7 1881.7,599.1 1893.1,687.8 1904.4,567.6 1915.7,696.4 1927,645.9 1938.3,613.3 1949.6,615.5 1960.9,685 1972.3,605.2 1983.6,709.2 1994.9,713.1 2006.2,592.7 2017.5,612 2028.8,624.5 2040.2,711.4 2051.5,698.1 2062.8,599.4 2074.1,618.5 2085.4,553 2096.7,606.2 2108,689.3 2119.4,593.8 2130.7,589.1 2142,695.7 2153.3,611.6 2164.6,645.9 2175.9,639.9 2187.2,470 2198.6,339.5 2209.9,396.8 2221.2,510.5 2232.5,136.1 2243.8,447 2255.1,612 2266.4,628.3 2277.8,720.6 2289.1,730.1 2300.4,717.4" fill="none" stroke="#000000" stroke-width="4.17" stroke-linejoin="round" stroke-linecap="round"/>
</g>
<rect x="411.90" y="1287.60" width="77.8" height="26.8" fill="#2a2eec" fill-opacity="0.25" stroke="#2a2eec" stroke-opacity="0.25" stroke-width="2.8"/>
<rect x="411.90" y="1349.50" width="77.8" height="26.8" fill="#fa7c17" fill-opacity="0.25" stroke="#fa7c17" stroke-opacity="0.25" stroke-width="2.8"/>
<rect x="1217.80" y="1287.60" width="77.8" height="26.8" fill="#328c06" fill-opacity="0.25" stroke="#328c06" stroke-opacity="0.25" stroke-width="2.8"/>
<rect x="1217.80" y="1349.50" width="77.8" height="26.8" fill="#c10c90" fill-opacity="0.25" stroke="#c10c90" stroke-opacity="0.25" stroke-width="2.8"/>
<path d="M1998.9 1299.9H2076.8" stroke="#000" stroke-width="4.17" stroke-linecap="round"/>
<text font-size="47.1" ><tspan x="834.86" y="53.50" textLength="197.16" lengthAdjust="spacingAndGlyphs">Posterior</tspan> <tspan x="1045.60" y="53.50" textLength="219.42" lengthAdjust="spacingAndGlyphs">Predictive</tspan> <tspan x="1278.59" y="53.50" textLength="133.08" lengthAdjust="spacingAndGlyphs">Model</tspan> <tspan x="1425.38" y="53.50" textLength="281.92" lengthAdjust="spacingAndGlyphs">Components</tspan></text>
<text font-size="41.2" ><tspan x="139.75" y="61.80" textLength="71.10" lengthAdjust="spacingAndGlyphs">1e8</tspan></text>
<text font-size="41.2" ><tspan x="105.29" y="236.85" textLength="23.46" lengthAdjust="spacingAndGlyphs">3</tspan></text>
<text font-size="41.2" ><tspan x="104.83" y="436.35" textLength="24.05" lengthAdjust="spacingAndGlyphs">2</tspan></text>
<text font-size="41.2" ><tspan x="104.83" y="635.85" textLength="22.44" lengthAdjust="spacingAndGlyphs">1</tspan></text>
<text font-size="41.2" ><tspan x="103.90" y="835.35" textLength="24.20" lengthAdjust="spacingAndGlyphs">0</tspan></text>
<text font-size="41.2" ><tspan x="72.26" y="1034.85" textLength="30.05" lengthAdjust="spacingAndGlyphs">−</tspan><tspan x="103.91" y="1034.85" textLength="22.57" lengthAdjust="spacingAndGlyphs">1</tspan></text>
<text font-size="41.2" ><tspan x="107.30" y="1179.20" textLength="160.19" lengthAdjust="spacingAndGlyphs">2014-07</tspan></text>
<text font-size="41.2" ><tspan x="404.70" y="1179.20" textLength="160.84" lengthAdjust="spacingAndGlyphs">2015-01</tspan></text>
<text font-size="41.2" ><tspan x="697.30" y="1179.20" textLength="160.19" lengthAdjust="spacingAndGlyphs">2015-07</tspan></text>
<text font-size="41.2" ><tspan x="994.70" y="1179.20" textLength="160.84" lengthAdjust="spacingAndGlyphs">2016-01</tspan></text>
<text font-size="41.2" ><tspan x="1288.90" y="1179.20" textLength="160.19" lengthAdjust="spacingAndGlyphs">2016-07</tspan></text>
<text font-size="41.2" ><tspan x="1586.30" y="1179.20" textLength="160.84" lengthAdjust="spacingAndGlyphs">2017-01</tspan></text>
<text font-size="41.2" ><tspan x="1878.90" y="1179.20" textLength="160.19" lengthAdjust="spacingAndGlyphs">2017-07</tspan></text>
<text font-size="41.2" ><tspan x="2176.30" y="1179.20" textLength="160.84" lengthAdjust="spacingAndGlyphs">2018-01</tspan></text>
<text font-size="41.2" ><tspan x="1223.99" y="1230.70" textLength="93.14" lengthAdjust="spacingAndGlyphs">date</tspan></text>
<g transform="translate(53 609.35) rotate(-90)"><text font-size="41.2" ><tspan x="-51.89" y="0.00" textLength="104.15" lengthAdjust="spacingAndGlyphs">sales</tspan></text></g>
<text font-size="41.2" ><tspan x="520.90" y="1314.60" textLength="85.53" lengthAdjust="spacingAndGlyphs">94%</tspan> <tspan x="617.85" y="1314.60" textLength="72.43" lengthAdjust="spacingAndGlyphs">HDI</tspan> <tspan x="702.14" y="1314.60" textLength="170.43" lengthAdjust="spacingAndGlyphs">(channel</tspan><tspan x="871.12" y="1315.60" textLength="19.19" lengthAdjust="spacingAndGlyphs">_</tspan><tspan x="890.86" y="1314.60" textLength="251.88" lengthAdjust="spacingAndGlyphs">contribution)</tspan></text>
<text font-size="41.2" ><tspan x="520.90" y="1376.50" textLength="85.53" lengthAdjust="spacingAndGlyphs">94%</tspan> <tspan x="617.85" y="1376.50" textLength="72.43" lengthAdjust="spacingAndGlyphs">HDI</tspan> <tspan x="702.06" y="1376.50" textLength="152.60" lengthAdjust="spacingAndGlyphs">(control</tspan><tspan x="853.12" y="1377.50" textLength="19.29" lengthAdjust="spacingAndGlyphs">_</tspan><tspan x="872.86" y="1376.50" textLength="251.37" lengthAdjust="spacingAndGlyphs">contribution)</tspan></text>
<text font-size="41.2" ><tspan x="1327.10" y="1314.60" textLength="85.53" lengthAdjust="spacingAndGlyphs">94%</tspan> <tspan x="1424.16" y="1314.60" textLength="72.32" lengthAdjust="spacingAndGlyphs">HDI</tspan> <tspan x="1507.68" y="1314.60" textLength="144.08" lengthAdjust="spacingAndGlyphs">(fourier</tspan><tspan x="1652.52" y="1315.60" textLength="19.19" lengthAdjust="spacingAndGlyphs">_</tspan><tspan x="1672.25" y="1314.60" textLength="251.98" lengthAdjust="spacingAndGlyphs">contribution)</tspan></text>
<text font-size="41.2" ><tspan x="1327.10" y="1376.50" textLength="85.53" lengthAdjust="spacingAndGlyphs">94%</tspan> <tspan x="1424.16" y="1376.50" textLength="72.32" lengthAdjust="spacingAndGlyphs">HDI</tspan> <tspan x="1507.64" y="1376.50" textLength="207.62" lengthAdjust="spacingAndGlyphs">(intercept)</tspan></text>
<text font-size="41.2" ><tspan x="2109.20" y="1314.60" textLength="19.87" lengthAdjust="spacingAndGlyphs">y</tspan></text>
</svg>
</body></html>
